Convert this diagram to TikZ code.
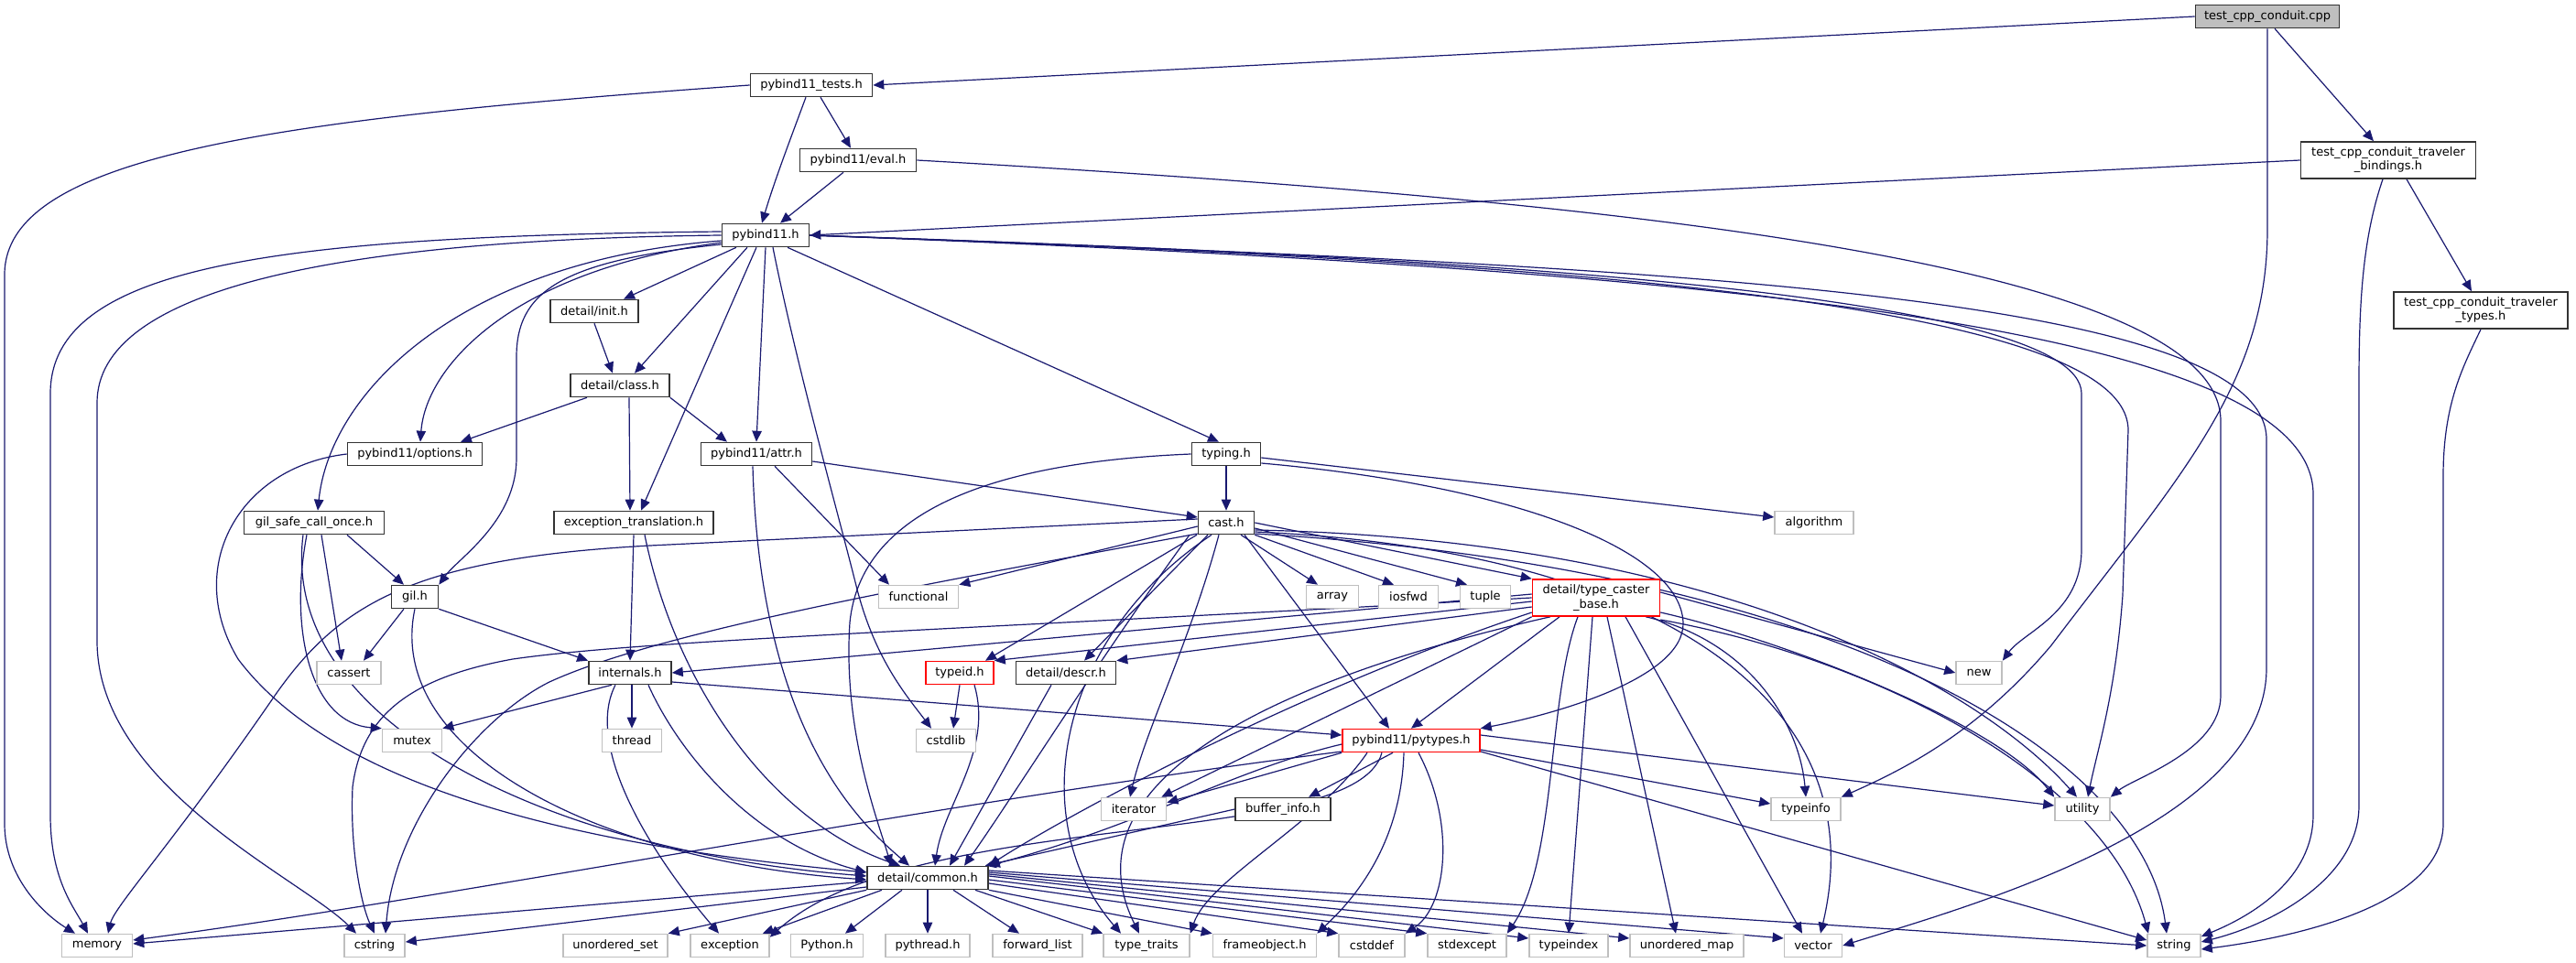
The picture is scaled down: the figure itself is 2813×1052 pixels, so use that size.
\documentclass[tikz,border=0pt]{standalone}
\usepackage{fontspec}
\setmainfont{DejaVu Sans}
\usetikzlibrary{arrows.meta}
\pgfdeclarelayer{background}
\pgfsetlayers{background,main}
\definecolor{edgec}{HTML}{191970}
\definecolor{leafc}{HTML}{BFBFBF}
\definecolor{rootfill}{HTML}{BFBFBF}
\begin{document}
\begin{tikzpicture}[x=0.5pt,y=-0.5pt,
  bx/.style={rectangle, inner sep=0pt, minimum height=12.5pt, font=\fontsize{6.5}{7.6}\selectfont, line width=0.8pt, fill=white},
  nb/.style={bx, draw=black!80},
  lf/.style={bx, draw=leafc},
  rd/.style={bx, draw=red},
  rt/.style={bx, draw=black!80, fill=rootfill},
  two/.style={minimum height=20pt, align=center},
  wd/.style={minimum width=#1*0.5pt},
  ed/.style={draw=edgec, line width=0.6pt, -{Triangle[length=6pt,width=5.2pt]}}
]
\useasboundingbox (0,0) rectangle (2813,1052);

% nodes
\node[rt, wd=157] (tcc) at (2476,18) {test\_cpp\_conduit.cpp};
\node[nb, wd=133] (pt) at (886,93) {pybind11\_tests.h};
\node[nb, wd=127] (eval) at (937,175) {pybind11/eval.h};
\node[nb, wd=191, two] (tb) at (2608,175) {test\_cpp\_conduit\_traveler\\\_bindings.h};
\node[nb, wd=95] (p11) at (836,257) {pybind11.h};
\node[nb, wd=190, two] (tt) at (2709,339) {test\_cpp\_conduit\_traveler\\\_types.h};
\node[nb, wd=96] (init) at (649,340) {detail/init.h};
\node[nb, wd=108] (class) at (677,421) {detail/class.h};
\node[nb, wd=147] (options) at (453,496) {pybind11/options.h};
\node[nb, wd=121] (attr) at (826,496) {pybind11/attr.h};
\node[nb, wd=75] (typing) at (1339,496) {typing.h};
\node[nb, wd=153] (gsco) at (343,571) {gil\_safe\_call\_once.h};
\node[nb, wd=174] (exctr) at (692,571) {exception\_translation.h};
\node[nb, wd=61] (cast) at (1339,571) {cast.h};
\node[lf, wd=86] (algorithm) at (1981,571) {algorithm};
\node[nb, wd=51] (gil) at (453,652) {gil.h};
\node[lf, wd=87] (functional) at (1003,652) {functional};
\node[lf, wd=57] (array) at (1455,652) {array};
\node[lf, wd=65] (iosfwd) at (1538,652) {iosfwd};
\node[lf, wd=55] (tuple) at (1622,652) {tuple};
\node[rd, wd=139, two] (tcb) at (1743,653) {detail/type\_caster\\\_base.h};
\node[lf, wd=70] (cassert) at (381,735) {cassert};
\node[nb, wd=90] (internals) at (688,735) {internals.h};
\node[rd, wd=74] (typeid) at (1048,735) {typeid.h};
\node[nb, wd=109] (descr) at (1164,735) {detail/descr.h};
\node[lf, wd=50] (new) at (2161,735) {new};
\node[lf, wd=65] (mutex) at (450,809) {mutex};
\node[lf, wd=65] (thread) at (690,809) {thread};
\node[lf, wd=65] (cstdlib) at (1033,809) {cstdlib};
\node[rd, wd=150] (pytypes) at (1541,809) {pybind11/pytypes.h};
\node[lf, wd=71] (iterator) at (1238,884) {iterator};
\node[nb, wd=104] (bufinfo) at (1401,884) {buffer\_info.h};
\node[lf, wd=76] (typeinfo) at (1972,884) {typeinfo};
\node[lf, wd=60] (utility) at (2274,884) {utility};
\node[nb, wd=132] (common) at (1013,959) {detail/common.h};
\node[lf, wd=77] (memory) at (106,1033) {memory};
\node[lf, wd=66] (cstring) at (409,1033) {cstring};
\node[lf, wd=114] (uset) at (672,1033) {unordered\_set};
\node[lf, wd=86] (exception) at (797,1033) {exception};
\node[lf, wd=79] (python) at (903,1033) {Python.h};
\node[lf, wd=92] (pythread) at (1013,1033) {pythread.h};
\node[lf, wd=98] (flist) at (1133,1033) {forward\_list};
\node[lf, wd=94] (ttraits) at (1252,1033) {type\_traits};
\node[lf, wd=113] (frame) at (1381,1033) {frameobject.h};
\node[lf, wd=72] (cstddef) at (1498,1033) {cstddef};
\node[lf, wd=86] (stdexcept) at (1602,1033) {stdexcept};
\node[lf, wd=86] (typeindex) at (1713,1033) {typeindex};
\node[lf, wd=124] (umap) at (1842,1033) {unordered\_map};
\node[lf, wd=63] (vector) at (1980,1033) {vector};
\node[lf, wd=58] (string) at (2374,1033) {string};

\begin{pgfonlayer}{background}
\fill[white] (0,0) rectangle (2813,1052);
% top
\draw[ed] (tcc.west) -- (pt.east);
\draw[ed] ([xshift=4pt]tcc.south) -- ([xshift=-8pt]tb.north);
\draw[ed] (tcc.south) -- (2476,250) .. controls (2476,420) and (2380,520) .. (2240,705) .. controls (2160,800) and (2080,840) .. (typeinfo.north east);
\draw[ed] (pt.west) .. controls (300,130) and (5,170) .. (5,300) -- (5,900) .. controls (5,960) and (50,1000) .. ([xshift=-12pt]memory.north);
\draw[ed] ([xshift=-3pt]pt.south) .. controls (860,160) and (845,200) .. ([xshift=-2pt]p11.north);
\draw[ed] ([xshift=5pt]pt.south) -- ([xshift=-4pt]eval.north);
\draw[ed] ([xshift=-8pt]eval.south) -- ([xshift=8pt]p11.north);
\draw[ed] (eval.east) .. controls (1700,215) and (2425,280) .. (2425,460) -- (2425,760) .. controls (2425,820) and (2330,850) .. (utility.north east);
\draw[ed] (tb.west) -- (p11.east);
\draw[ed] ([xshift=-3pt]tb.south) .. controls (2580,260) and (2576,330) .. (2576,420) -- (2576,880) .. controls (2576,960) and (2480,1010) .. ([yshift=2pt]string.east);
\draw[ed] ([xshift=10pt]tb.south) -- ([xshift=-5pt]tt.north);
\draw[ed] (tt.south) .. controls (2690,400) and (2668,440) .. (2668,520) -- (2668,900) .. controls (2668,990) and (2500,1025) .. ([yshift=-2pt]string.east);
% pybind11.h right
\draw[ed] (p11.east) .. controls (1600,280) and (2273,320) .. (2273,430) -- (2273,600) .. controls (2273,670) and (2210,690) .. (new.north east);
\draw[ed] (p11.east) .. controls (1700,285) and (2324,330) .. (2324,470) -- (2318,650) .. controls (2310,760) and (2290,820) .. ([xshift=3pt]utility.north);
\draw[ed] (p11.east) .. controls (1800,290) and (2475,320) .. (2475,480) -- (2475,730) .. controls (2475,900) and (2150,990) .. (vector.east);
\draw[ed] (p11.east) .. controls (1900,295) and (2526,360) .. (2526,540) -- (2526,890) .. controls (2526,960) and (2460,1000) .. ([yshift=5pt]string.east);
% pybind11.h left
\draw[ed] ([yshift=2pt]p11.west) .. controls (300,258) and (55,290) .. (55,430) -- (55,890) .. controls (55,960) and (80,990) .. ([xshift=-5pt]memory.north);
\draw[ed] (p11.west) .. controls (350,262) and (106,320) .. (106,440) -- (106,700) .. controls (106,860) and (330,960) .. ([xshift=-10pt]cstring.north);
\draw[ed] ([yshift=-3pt]p11.west) .. controls (500,285) and (360,430) .. ([xshift=2pt]gsco.north);
\draw[ed] ([yshift=-4pt]p11.west) .. controls (560,295) and (465,400) .. ([xshift=3pt]options.north);
\draw[ed] ([yshift=-5pt]p11.west) .. controls (610,285) and (564,320) .. (564,390) -- (564,500) .. controls (564,570) and (500,610) .. (gil.north east);
\draw[ed] ([xshift=-16pt]p11.south) -- ([xshift=16pt]init.north);
\draw[ed] ([xshift=-10pt]p11.south) -- ([xshift=8pt]class.north);
\draw[ed] ([xshift=-5pt]p11.south) -- ([xshift=4pt]exctr.north);
\draw[ed] (p11.south) -- (attr.north);
\draw[ed] ([xshift=4pt]p11.south) .. controls (870,400) and (915,560) .. (935,640) .. controls (955,720) and (990,760) .. ([xshift=-8pt]cstdlib.north);
\draw[ed] ([xshift=12pt]p11.south) -- ([xshift=-4pt]typing.north);
% class level
\draw[ed] (init.south) -- ([xshift=-4pt]class.north);
\draw[ed] ([xshift=-18pt]class.south) -- ([xshift=25pt]options.north);
\draw[ed] ([xshift=5pt]class.south) -- ([xshift=-2pt]exctr.north);
\draw[ed] (class.south east) -- ([xshift=-16pt]attr.north);
\draw[ed] (options.west) .. controls (260,510) and (200,620) .. (260,720) .. controls (380,880) and (700,930) .. ([yshift=3pt]common.west);
% gil_safe_call_once / gil
\draw[ed] ([xshift=18pt]gsco.south) -- ([xshift=-6pt]gil.north);
\draw[ed] ([xshift=4pt]gsco.south) -- ([xshift=-4pt]cassert.north);
\draw[ed] ([xshift=-4pt]gsco.south) .. controls (315,690) and (340,790) .. (mutex.north west);
\draw[ed] ([xshift=-6pt]gsco.south) .. controls (305,790) and (600,930) .. ([yshift=1pt]common.west);
\draw[ed] ([xshift=-6pt]gil.south) -- ([xshift=8pt]cassert.north);
\draw[ed] (gil.south east) -- (internals.north west);
\draw[ed] (gil.south) .. controls (420,820) and (650,940) .. ([yshift=-1pt]common.west);
% exception_translation / attr / typing
\draw[ed] (exctr.south) -- (internals.north);
\draw[ed] ([xshift=6pt]exctr.south) .. controls (740,760) and (850,900) .. ([xshift=-15pt]common.north);
\draw[ed] ([yshift=-4pt]attr.east) -- ([yshift=3pt]cast.west);
\draw[ed] ([xshift=10pt]attr.south) -- ([xshift=-16pt]functional.north);
\draw[ed] ([xshift=-2pt]attr.south) .. controls (830,800) and (940,900) .. ([xshift=-10pt]common.north);
\draw[ed] (typing.south) -- (cast.north);
\draw[ed] ([yshift=-2pt]typing.east) -- ([yshift=3pt]algorithm.west);
\draw[ed] ([yshift=-5pt]typing.east) .. controls (1650,530) and (1835,600) .. (1838,680) .. controls (1840,740) and (1700,780) .. (pytypes.north east);
\draw[ed] (typing.west) .. controls (1080,505) and (940,560) .. (928,680) .. controls (920,800) and (960,900) .. ([xshift=-20pt]common.north);
% cast.h
\draw[ed] ([yshift=-2pt]cast.west) -- (functional.north east);
\draw[ed] ([xshift=8pt]cast.south) -- ([xshift=-8pt]array.north);
\draw[ed] (cast.south east) -- ([xshift=-8pt]iosfwd.north);
\draw[ed] ([yshift=-3pt]cast.east) -- ([xshift=-10pt]tuple.north);
\draw[ed] (cast.east) -- (tcb.north west);
\draw[ed] ([xshift=-16pt]cast.south) -- ([xshift=14pt]typeid.north);
\draw[ed] ([xshift=-10pt]cast.south) -- ([xshift=10pt]descr.north);
\draw[ed] ([xshift=10pt]cast.south) -- ([xshift=-12pt]pytypes.north);
\draw[ed] ([xshift=-4pt]cast.south) .. controls (1300,700) and (1250,800) .. ([xshift=-2pt]iterator.north);
\draw[ed] ([yshift=2pt]cast.west) -- (710,596) .. controls (450,610) and (370,660) .. (300,760) .. controls (190,920) and (125,990) .. ([xshift=6pt]memory.north);
\draw[ed] ([yshift=-6pt]cast.west) .. controls (1000,640) and (720,690) .. (600,745) .. controls (520,785) and (430,900) .. ([xshift=6pt]cstring.north);
\draw[ed] ([xshift=-8pt]cast.south) .. controls (1150,700) and (1120,900) .. ([xshift=-14pt]ttraits.north);
\draw[ed] ([xshift=-20pt]cast.south) .. controls (1200,720) and (1100,880) .. ([xshift=20pt]common.north);
\draw[ed] ([yshift=-4pt]cast.east) .. controls (1900,590) and (2170,760) .. ([xshift=-3pt]utility.north);
\draw[ed] ([yshift=-6pt]cast.east) .. controls (2000,620) and (2340,820) .. ([xshift=-4pt]string.north);
\draw[ed] ([yshift=-5pt]cast.east) .. controls (1800,600) and (2050,760) .. ([xshift=4pt]vector.north);
% type_caster_base
\draw[ed] ([yshift=2pt]tcb.west) -- (internals.east);
\draw[ed] ([yshift=-2pt]tcb.west) -- (typeid.north east);
\draw[ed] ([yshift=-5pt]tcb.west) -- (descr.north east);
\draw[ed] (tcb.west) .. controls (1000,690) and (700,700) .. (560,720) .. controls (450,740) and (395,780) .. (385,860) .. controls (382,930) and (395,990) .. (cstring.north);
\draw[ed] ([yshift=-8pt]tcb.west) .. controls (1400,760) and (1150,900) .. (common.north east);
\draw[ed] ([xshift=-20pt]tcb.south) -- (pytypes.north);
\draw[ed] (tcb.south west) -- ([xshift=-3pt]iterator.north east);
\draw[ed] ([xshift=-25pt]tcb.south) .. controls (1400,740) and (1160,850) .. ([xshift=-4pt]ttraits.north);
\draw[ed] ([xshift=-10pt]tcb.south) .. controls (1690,760) and (1700,940) .. (stdexcept.north east);
\draw[ed] ([xshift=-2pt]tcb.south) -- (typeindex.north);
\draw[ed] ([xshift=6pt]tcb.south) -- ([xshift=-6pt]umap.north);
\draw[ed] ([xshift=16pt]tcb.south) -- ([xshift=-6pt]vector.north);
\draw[ed] ([xshift=-8pt]tcb.south east) .. controls (1910,700) and (1965,790) .. (typeinfo.north);
\draw[ed] ([yshift=-8pt]tcb.east) .. controls (1950,700) and (2180,790) .. (utility.north west);
\draw[ed] ([yshift=-12pt]tcb.east) .. controls (2050,720) and (2300,850) .. ([xshift=-14pt]string.north);
\draw[ed] ([yshift=3pt]tcb.east) -- (new.west);
% pytypes
\draw[ed] ([yshift=-2pt]pytypes.west) .. controls (1350,840) and (1250,900) .. (common.north east);
\draw[ed] ([xshift=-10pt]pytypes.south) -- ([xshift=14pt]bufinfo.north);
\draw[ed] (pytypes.south west) -- ([yshift=-3pt]iterator.north east);
\draw[ed] ([yshift=-5pt]pytypes.east) -- ([yshift=3pt]typeinfo.west);
\draw[ed] ([yshift=3pt]pytypes.east) -- ([yshift=2pt]utility.west);
\draw[ed] ([yshift=-6pt]pytypes.west) .. controls (1000,880) and (500,980) .. ([yshift=3pt]memory.east);
\draw[ed] ([yshift=-6pt]pytypes.east) -- ([yshift=3pt]string.west);
\draw[ed] ([xshift=4pt]pytypes.south) .. controls (1590,900) and (1580,990) .. (cstddef.north east);
\draw[ed] ([xshift=-4pt]pytypes.south) .. controls (1530,930) and (1470,990) .. (frame.north east);
\draw[ed] ([xshift=-16pt]pytypes.south) .. controls (1480,930) and (1000,880) .. ([yshift=-2pt]exception.north east);
\draw[ed] ([xshift=-24pt]pytypes.south) .. controls (1440,900) and (1320,960) .. (ttraits.north east);
\draw[ed] (bufinfo.west) -- ([xshift=-2pt]common.north east);
% internals / typeid / descr
\draw[ed] ([xshift=-10pt]internals.south) -- (mutex.north east);
\draw[ed] ([xshift=1pt]internals.south) -- (thread.north);
\draw[ed] ([yshift=-5pt]internals.east) -- ([yshift=3pt]pytypes.west);
\draw[ed] ([xshift=-8pt]internals.south) .. controls (640,810) and (700,920) .. ([xshift=-6pt]exception.north);
\draw[ed] ([xshift=10pt]internals.south) .. controls (740,820) and (820,920) .. ([yshift=3pt]common.west);
\draw[ed] (typeid.south) -- ([xshift=4pt]cstdlib.north);
\draw[ed] ([xshift=8pt]typeid.south) .. controls (1085,820) and (1030,880) .. ([xshift=4pt]common.north);
\draw[ed] ([xshift=-8pt]descr.south) -- ([xshift=12pt]common.north);
% common
\draw[ed] ([yshift=-2pt]common.west) -- ([yshift=1pt]memory.east);
\draw[ed] ([yshift=-5pt]common.west) -- ([yshift=2pt]cstring.east);
\draw[ed] (common.south west) -- (uset.north east);
\draw[ed] ([xshift=-25pt]common.south) -- ([xshift=-4pt]exception.north east);
\draw[ed] ([xshift=-14pt]common.south) -- ([xshift=10pt]python.north);
\draw[ed] (common.south) -- (pythread.north);
\draw[ed] ([xshift=14pt]common.south) -- ([xshift=-10pt]flist.north);
\draw[ed] ([xshift=26pt]common.south) -- (ttraits.north west);
\draw[ed] (common.south east) -- (frame.north west);
\draw[ed] ([yshift=-3pt]common.east) -- (cstddef.north west);
\draw[ed] ([yshift=-1pt]common.east) -- (stdexcept.north west);
\draw[ed] ([yshift=1pt]common.east) -- ([yshift=4pt]typeindex.west);
\draw[ed] ([yshift=2pt]common.east) -- ([yshift=4pt]umap.west);
\draw[ed] ([yshift=3pt]common.east) -- ([yshift=4pt]vector.west);
\draw[ed] ([yshift=4pt]common.east) -- (string.west);
\end{pgfonlayer}
\end{tikzpicture}
\end{document}
